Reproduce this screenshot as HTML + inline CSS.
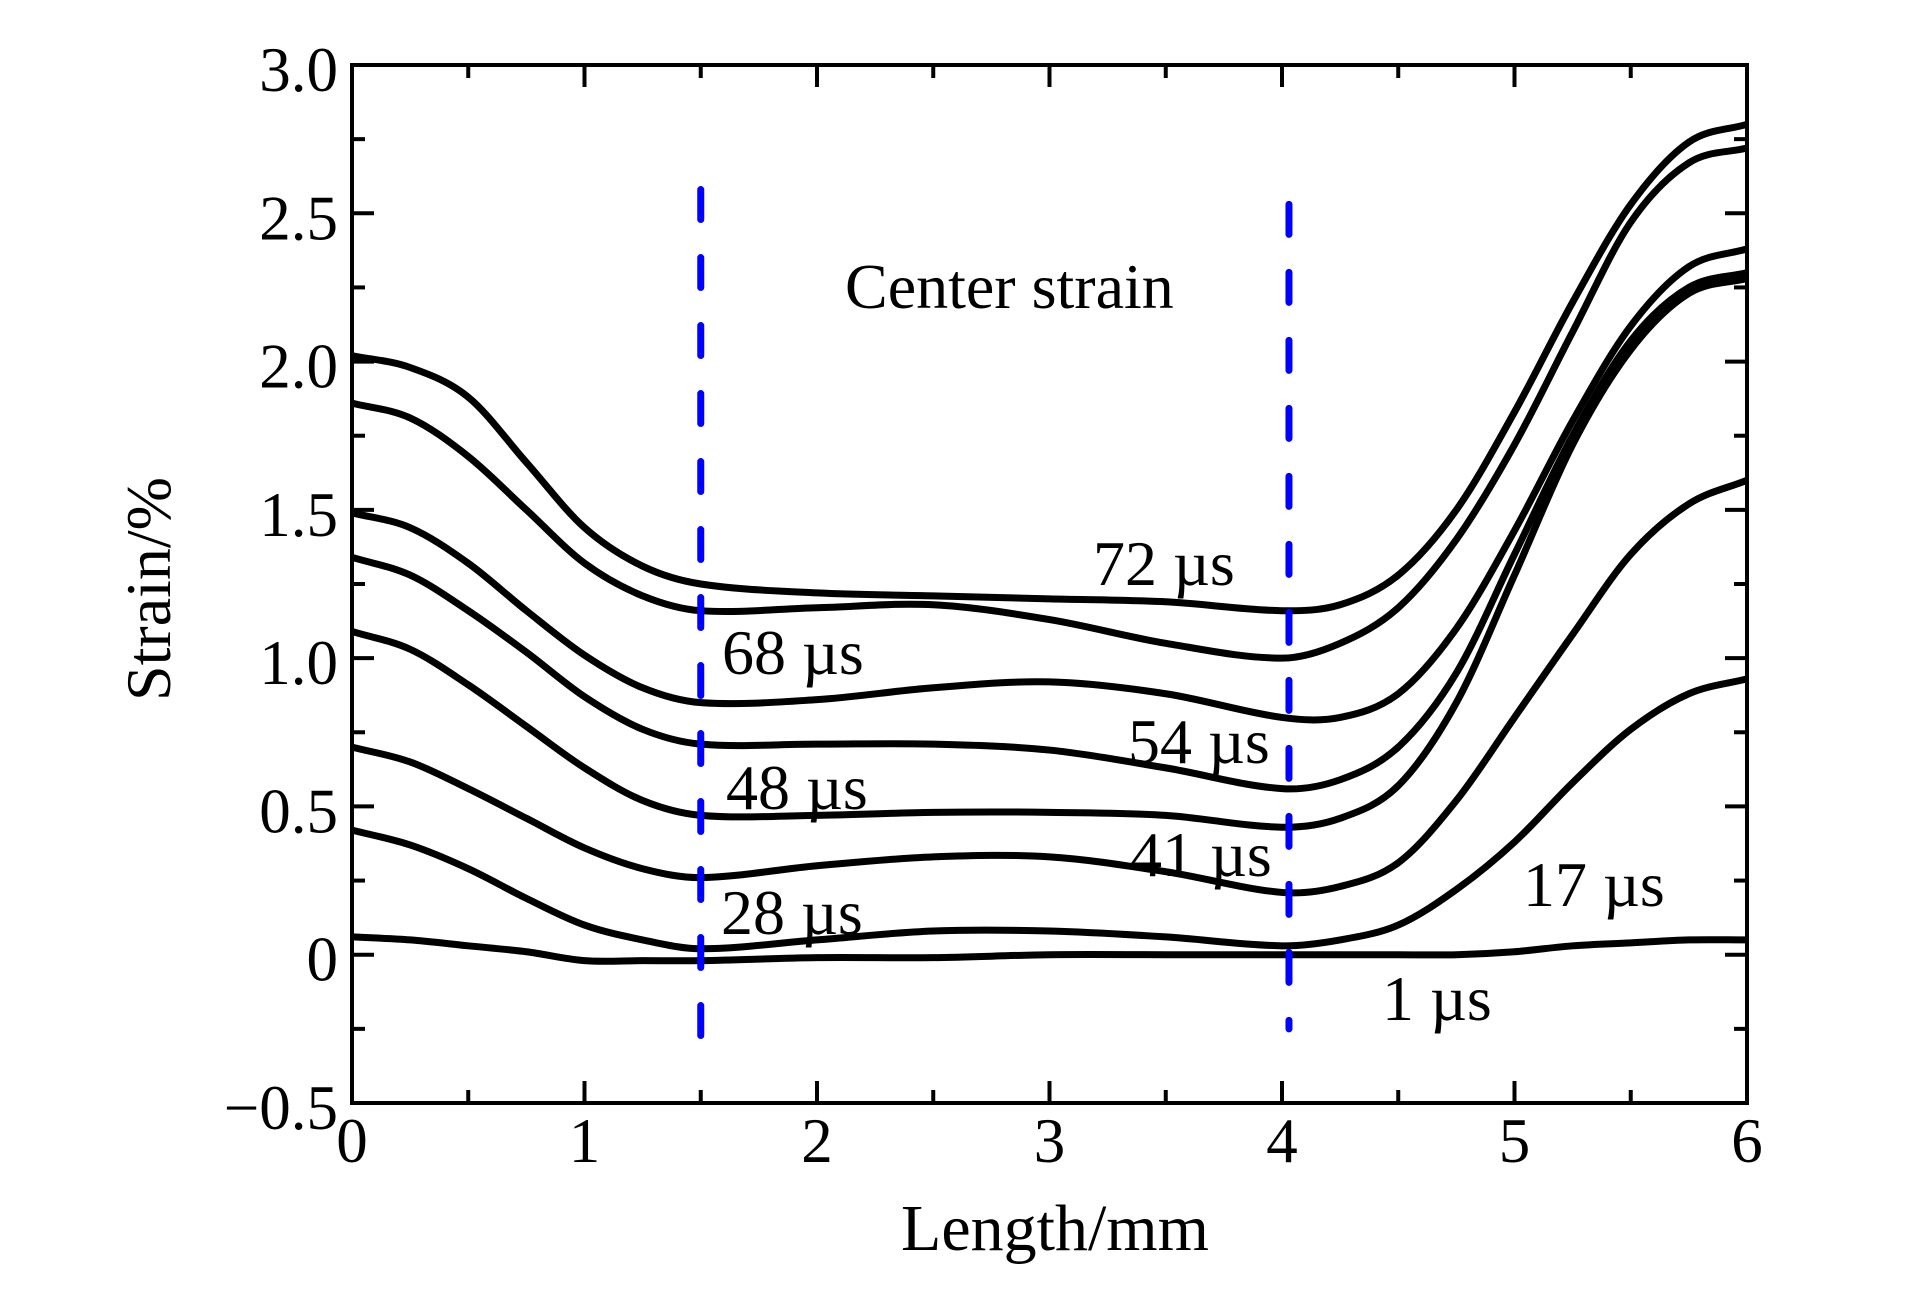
<!DOCTYPE html>
<html><head><meta charset="utf-8"><style>
html,body{margin:0;padding:0;background:#fff;}
svg{display:block;font-family:"Liberation Serif","DejaVu Serif",serif;}
</style></head><body>
<svg id="chart" width="1923" height="1299" viewBox="0 0 1923 1299" xmlns="http://www.w3.org/2000/svg">
<g id="grid"></g>
<g id="series"></g>
<g id="labels"></g>
</svg>
<script>
const xSamples=[0,0.25,0.5,0.75,1,1.25,1.5,2,2.5,3,3.5,4,4.25,4.5,4.75,5,5.25,5.5,5.75,6];
const s72=[2.02,1.98,1.88,1.66,1.44,1.31,1.25,1.22,1.21,1.20,1.19,1.16,1.18,1.28,1.50,1.83,2.20,2.53,2.74,2.80];
const s68=[1.86,1.81,1.68,1.50,1.32,1.21,1.16,1.17,1.18,1.13,1.05,1.00,1.05,1.17,1.40,1.72,2.10,2.47,2.67,2.72];
const s54=[1.49,1.44,1.32,1.16,1.01,0.90,0.85,0.86,0.90,0.92,0.88,0.80,0.80,0.88,1.10,1.43,1.80,2.12,2.32,2.38];
const s48=[1.34,1.28,1.16,1.02,0.87,0.76,0.71,0.71,0.71,0.69,0.63,0.56,0.59,0.70,0.95,1.35,1.75,2.07,2.25,2.30];
const s41=[1.09,1.03,0.91,0.77,0.63,0.52,0.47,0.47,0.48,0.48,0.47,0.43,0.46,0.57,0.85,1.28,1.72,2.04,2.23,2.28];
const s28=[0.70,0.65,0.56,0.46,0.36,0.29,0.26,0.30,0.33,0.33,0.28,0.21,0.23,0.31,0.52,0.80,1.08,1.35,1.52,1.60];
const s17=[0.42,0.37,0.29,0.19,0.10,0.05,0.02,0.05,0.08,0.08,0.06,0.03,0.05,0.10,0.22,0.38,0.58,0.76,0.88,0.93];
const s1=[0.06,0.05,0.03,0.01,-0.02,-0.02,-0.02,-0.01,-0.01,0.0,0.0,0.0,0.0,0.0,0.0,0.01,0.03,0.04,0.05,0.05];
const seriesNames=["72","68","54","48","41","28","17","1"];
const xTicks=[0,1,2,3,4,5,6];
const yTicks=[-0.5,0,0.5,1.0,1.5,2.0,2.5,3.0];
const yTickLabels=["\u22120.5","0","0.5","1.0","1.5","2.0","2.5","3.0"];
const centerLines=[1.5,4.03];
const centerTop=[2.58,2.53];
const centerBottom=[-0.33,-0.25];

const X0=352,X1=1747,Y0=1103,Y1=65;
const xs=v=>X0+(v-0)/6*(X1-X0);
const ys=v=>Y0-(v+0.5)/3.5*(Y0-Y1);
const NS="http://www.w3.org/2000/svg";
function mk(t,a,p){const e=document.createElementNS(NS,t);for(const k in a)e.setAttribute(k,a[k]);p.appendChild(e);return e;}
const grid=document.getElementById('grid'),ser=document.getElementById('series'),lab=document.getElementById('labels');

const fr=mk('rect',{x:X0,y:Y1,width:X1-X0,height:Y0-Y1,fill:'none',stroke:'#000','stroke-width':4},grid);


for(let v=0;v<=6.001;v+=0.5){
  const major=Math.abs(v-Math.round(v))<1e-6, L=major?22:13, x=xs(v);
  const t1=mk('line',{x1:x,x2:x,y1:Y0,y2:Y0-L,stroke:'#000','stroke-width':4},grid);
  
  
  const t2=mk('line',{x1:x,x2:x,y1:Y1,y2:Y1+L,stroke:'#000','stroke-width':4},grid);
  
  
}
for(let v=-0.5;v<=3.001;v+=0.25){
  const major=Math.abs(v*2-Math.round(v*2))<1e-6, L=major?22:13, y=ys(v);
  const t1=mk('line',{x1:X0,x2:X0+L,y1:y,y2:y,stroke:'#000','stroke-width':4},grid);
  
  
  const t2=mk('line',{x1:X1,x2:X1-L,y1:y,y2:y,stroke:'#000','stroke-width':4},grid);
  
  
}
xTicks.forEach(v=>{
  const t=mk('text',{x:xs(v),y:1162,'font-size':63,'text-anchor':'middle'},lab);
  t.textContent=String(v);
  
  
});
yTicks.forEach((v,i)=>{
  const t=mk('text',{x:338,y:ys(v)+26,'font-size':63,'text-anchor':'end'},lab);
  t.textContent=yTickLabels[i];
  
  
});

function pathFor(vals){
  const n=xSamples.length, m=[];
  for(let i=0;i<n;i++){
    const a=Math.max(0,i-1),b=Math.min(n-1,i+1);
    m.push((vals[b]-vals[a])/(xSamples[b]-xSamples[a]));
  }
  let d='M'+xs(xSamples[0])+','+ys(vals[0]);
  for(let i=0;i<n-1;i++){
    const h=xSamples[i+1]-xSamples[i];
    const c1x=xSamples[i]+h/3,c1y=vals[i]+m[i]*h/3;
    const c2x=xSamples[i+1]-h/3,c2y=vals[i+1]-m[i+1]*h/3;
    d+=' C'+xs(c1x)+','+ys(c1y)+' '+xs(c2x)+','+ys(c2y)+' '+xs(xSamples[i+1])+','+ys(vals[i+1]);
  }
  return d;
}
[s72,s68,s54,s48,s41,s28,s17,s1].forEach((vals,i)=>{
  const p=mk('path',{d:pathFor(vals),fill:'none',stroke:'#000','stroke-width':7,'stroke-linejoin':'round'},ser);
  
  
});
centerLines.forEach((v,i)=>{
  const l=mk('line',{x1:xs(v),x2:xs(v),y1:ys(centerTop[i]),y2:ys(centerBottom[i]),stroke:'#0000ff','stroke-width':7,'stroke-dasharray':'30 38','stroke-linecap':'round'},ser);
  
  
});
</script>
<script>
(function(){
const NS="http://www.w3.org/2000/svg";
const lab=document.getElementById('labels');
const items=[["Center strain",845,308,"center-strain-label"],["72 \u00b5s",1093,585,"label-72us"],["68 \u00b5s",722,674,"label-68us"],["54 \u00b5s",1128,763,"label-54us"],["48 \u00b5s",726,809,"label-48us"],["41 \u00b5s",1130,876,"label-41us"],["28 \u00b5s",721,934,"label-28us"],["17 \u00b5s",1523,906,"label-17us"],["1 \u00b5s",1382,1020,"label-1us"]];
items.forEach(it=>{const t=document.createElementNS(NS,'text');t.setAttribute('x',it[1]);t.setAttribute('y',it[2]);t.setAttribute('font-size',64);t.textContent=it[0];


lab.appendChild(t);});
const xt=document.createElementNS(NS,'text');xt.setAttribute('x',1055);xt.setAttribute('y',1250);xt.setAttribute('font-size',66);xt.setAttribute('text-anchor','middle');xt.textContent='Length/mm';


lab.appendChild(xt);
const yt=document.createElementNS(NS,'text');yt.setAttribute('transform','translate(170,589) rotate(-90)');yt.setAttribute('font-size',64);yt.setAttribute('text-anchor','middle');yt.textContent='Strain/%';


lab.appendChild(yt);
})();
</script>
</body></html>
